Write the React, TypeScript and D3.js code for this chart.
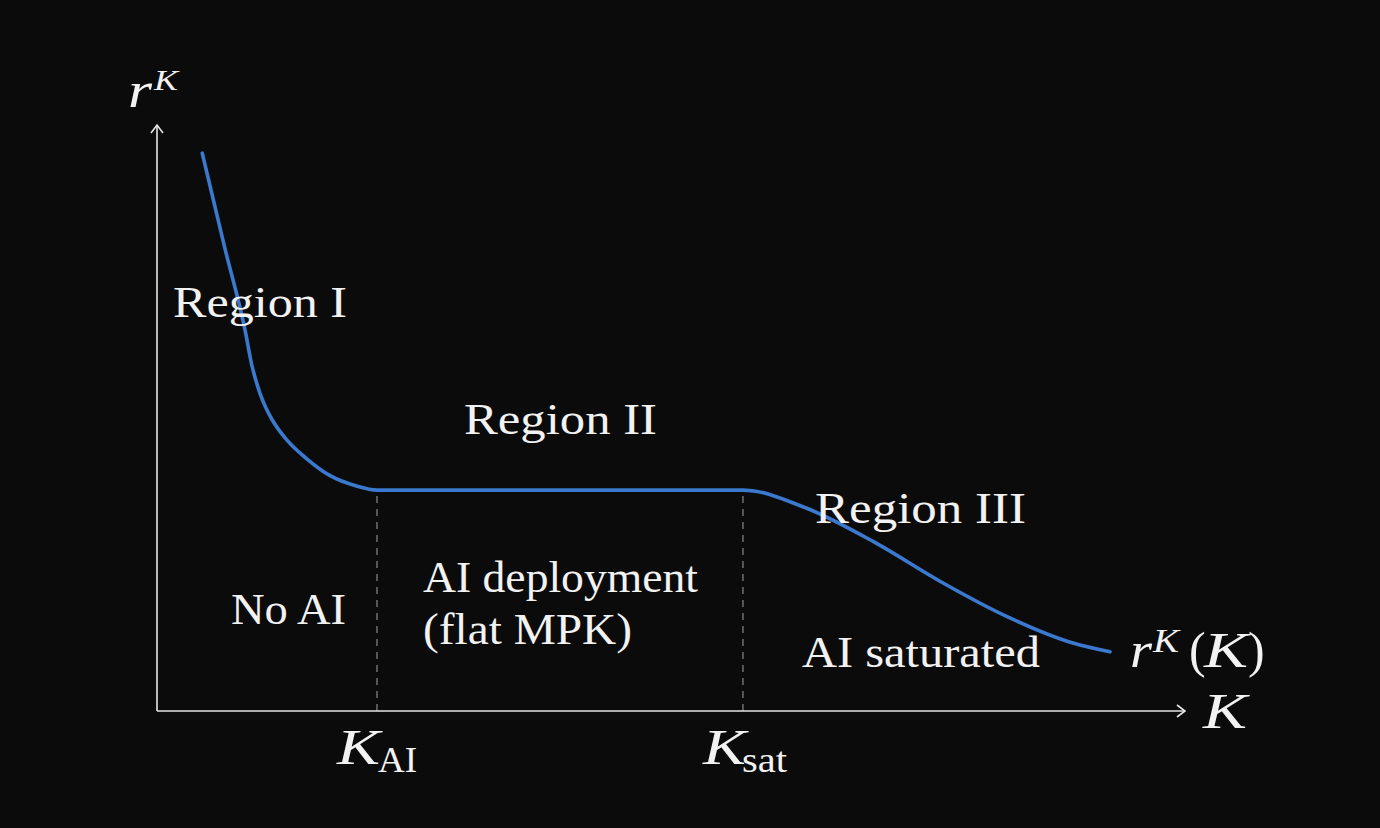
import * as d3 from "d3";

// capital stock K (axis units) and return on capital r^K
const kValues = [
  0.44, 0.66, 0.86, 0.92, 1.0, 1.06, 1.12, 1.26, 1.46, 1.68, 1.94, 2.14, 5.7,
  6.32, 6.97, 7.62, 8.27, 8.91, 9.27,
];
const rValues = [
  9.52, 7.9, 6.47, 5.92, 5.43, 5.17, 4.97, 4.63, 4.3, 4.02, 3.84, 3.77, 3.77,
  3.46, 2.89, 2.21, 1.61, 1.16, 1.01,
];

const thresholdValues = [2.14, 5.7];
const thresholdSubs = ["AI", "sat"];
const plateauValue = 3.77;

const regionNames = ["Region I", "Region II", "Region III"];
const regionNotes = ["No AI", "AI deployment", "(flat MPK)", "AI saturated"];

const W = 1380;
const H = 828;
const BG = "#0b0b0b";
const FG = "#f2f2f2";
const TEXT_FONT = "'Liberation Serif', 'DejaVu Serif', serif";

export default function App() {
  const x = d3.scaleLinear().domain([0, 10]).range([157, 1185]);
  const y = d3.scaleLinear().domain([0, 10]).range([711, 125]);

  const points = kValues.map((k, i) => [k, rValues[i]] as [number, number]);
  const line = d3
    .line<[number, number]>()
    .x((d) => x(d[0]))
    .y((d) => y(d[1]))
    .curve(d3.curveMonotoneX);

  const x0 = x(0);
  const y0 = y(0);
  const xEnd = x(10);
  const yEnd = y(10);

  const textStyle = {
    fill: FG,
    fontFamily: TEXT_FONT,
    fontSize: 45,
  };
  const mathStyle = {
    fill: FG,
    fontFamily: TEXT_FONT,
    fontStyle: "italic" as const,
    fontSize: 50,
  };
  const upright = { ...mathStyle, fontStyle: "normal" as const };

  // region labels: [text, x, baseline, width]
  const labels: [string, number, number, number][] = [
    [regionNames[0], 173, 317, 174],
    [regionNames[1], 464, 434, 193],
    [regionNames[2], 815, 523, 211],
    [regionNotes[0], 231, 624, 115],
    [regionNotes[1], 423, 592, 275],
    [regionNotes[2], 423, 644, 209],
    [regionNotes[3], 802, 667, 238],
  ];

  const subX = [378, 742];
  const subW = [39, 45];

  return (
    <div
      style={{
        position: "absolute",
        left: 0,
        top: 0,
        width: W,
        height: H,
        background: BG,
      }}
    >
      <svg width={W} height={H} style={{ display: "block" }}>
        <rect width={W} height={H} fill={BG} />

        {/* threshold guides */}
        {thresholdValues.map((t) => (
          <line
            key={t}
            x1={x(t)}
            x2={x(t)}
            y1={y0}
            y2={y(plateauValue)}
            stroke="#8a8a8a"
            strokeWidth={1.2}
            strokeDasharray="7 6"
          />
        ))}

        {/* axes */}
        <g stroke="#e6e6e6" strokeWidth={1.6} fill="none">
          <line x1={x0} x2={xEnd} y1={y0} y2={y0} />
          <line x1={x0} x2={x0} y1={y0} y2={yEnd} />
          <path
            d={`M${xEnd - 8},${y0 - 6} L${xEnd},${y0} L${xEnd - 8},${y0 + 6}`}
          />
          <path
            d={`M${x0 - 6},${yEnd + 8} L${x0},${yEnd} L${x0 + 6},${yEnd + 8}`}
          />
        </g>

        {/* r^K(K) curve */}
        <path
          d={line(points) ?? ""}
          fill="none"
          stroke="#3b79cf"
          strokeWidth={3.6}
          strokeLinecap="round"
        />

        {/* y axis label r^K */}
        <text x={128} y={107} style={mathStyle} textLength={24} lengthAdjust="spacingAndGlyphs">
          r
        </text>
        <text x={154} y={90} style={{ ...mathStyle, fontSize: 30 }} textLength={24} lengthAdjust="spacingAndGlyphs">
          K
        </text>

        {/* x axis label K */}
        <text x={1203} y={728} style={mathStyle} textLength={44} lengthAdjust="spacingAndGlyphs">
          K
        </text>

        {/* curve label r^K(K) */}
        <text x={1130} y={667} style={mathStyle} textLength={22} lengthAdjust="spacingAndGlyphs">
          r
        </text>
        <text x={1153} y={652} style={{ ...mathStyle, fontSize: 33 }} textLength={26} lengthAdjust="spacingAndGlyphs">
          K
        </text>
        <text x={1189} y={667} style={upright}>
          (
        </text>
        <text x={1204} y={667} style={mathStyle} textLength={44} lengthAdjust="spacingAndGlyphs">
          K
        </text>
        <text x={1248} y={667} style={upright}>
          )
        </text>

        {/* threshold labels */}
        {thresholdValues.map((t, i) => (
          <g key={t}>
            <text
              x={x(t) - 40}
              y={764}
              style={mathStyle}
              textLength={43}
              lengthAdjust="spacingAndGlyphs"
            >
              K
            </text>
            <text
              x={subX[i]}
              y={772}
              style={{ ...upright, fontSize: 36 }}
              textLength={subW[i]}
              lengthAdjust="spacingAndGlyphs"
            >
              {thresholdSubs[i]}
            </text>
          </g>
        ))}

        {/* region annotations */}
        {labels.map(([t, lx, ly, lw]) => (
          <text
            key={t}
            x={lx}
            y={ly}
            style={textStyle}
            textLength={lw}
            lengthAdjust="spacingAndGlyphs"
          >
            {t}
          </text>
        ))}
      </svg>
    </div>
  );
}
